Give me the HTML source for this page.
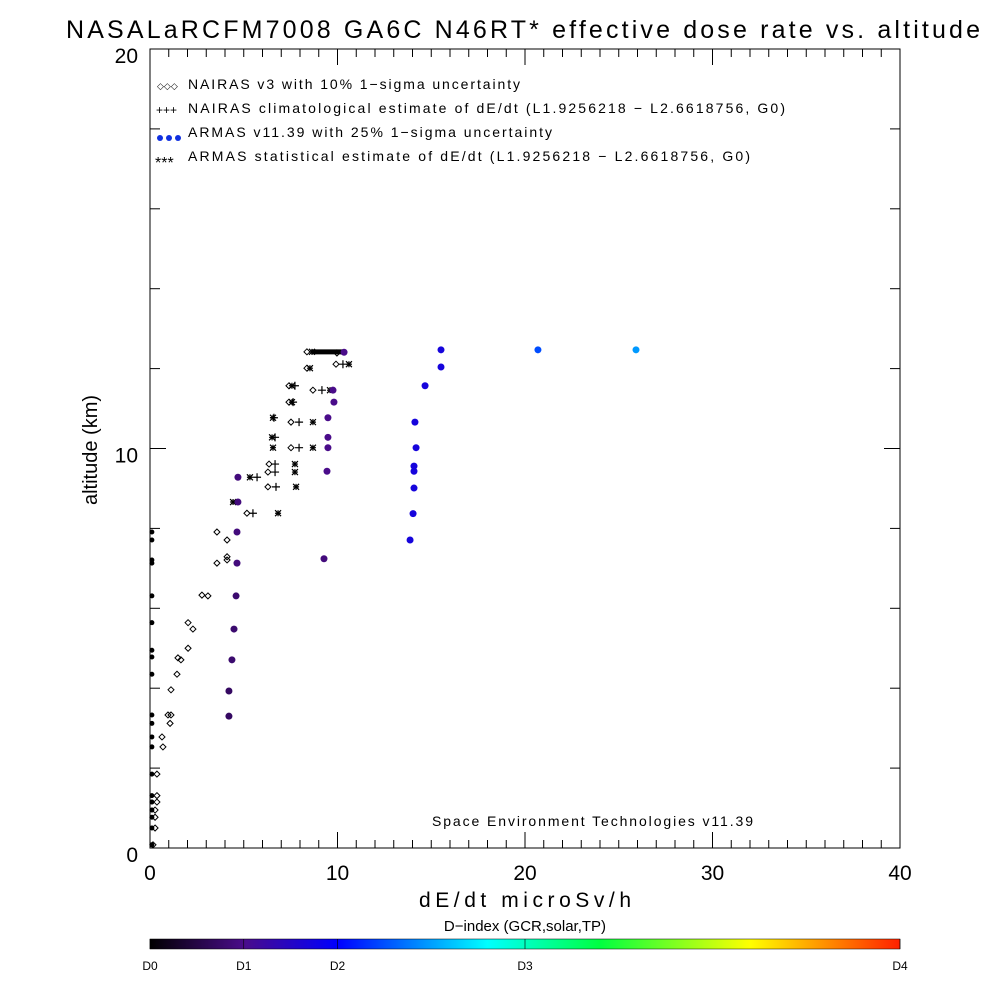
<!DOCTYPE html>
<html><head><meta charset="utf-8"><style>
body{margin:0;background:#fff;}
svg text{font-family:"Liberation Sans",sans-serif;fill:#000;}
</style></head><body>
<svg id="chart" width="1000" height="1000" viewBox="0 0 1000 1000">
<defs><linearGradient id="cb" x1="0" x2="1" y1="0" y2="0">
<stop offset="0" stop-color="#000000"/><stop offset="0.125" stop-color="#4a0c8a"/><stop offset="0.25" stop-color="#0000ff"/><stop offset="0.45" stop-color="#00ffff"/><stop offset="0.6" stop-color="#00ff40"/><stop offset="0.8" stop-color="#ffff00"/><stop offset="1" stop-color="#ff2000"/>
</linearGradient></defs>
<text x="66" y="38" font-size="25" textLength="914" lengthAdjust="spacing">NASALaRCFM7008  GA6C N46RT* effective dose rate vs. altitude</text>
<rect x="150" y="49" width="750" height="799" fill="none" stroke="#000" stroke-width="1"/>
<g id="axes"></g>
<g id="marks"></g>
<text x="188" y="89" font-size="14" textLength="332" lengthAdjust="spacing">NAIRAS v3 with 10% 1−sigma uncertainty</text>
<text x="188" y="113" font-size="14" textLength="597" lengthAdjust="spacing">NAIRAS climatological estimate of dE/dt (L1.9256218 − L2.6618756, G0)</text>
<text x="188" y="137" font-size="14" textLength="364" lengthAdjust="spacing">ARMAS v11.39 with 25% 1−sigma uncertainty</text>
<text x="188" y="161" font-size="14" textLength="562" lengthAdjust="spacing">ARMAS statistical estimate of dE/dt (L1.9256218 − L2.6618756, G0)</text>
<text x="157" y="89" font-size="9">◇◇◇</text>
<text x="156" y="114" font-size="12">+++</text>
<circle cx="160" cy="138" r="3" fill="#1030e0"/>
<circle cx="169" cy="138" r="3" fill="#1030e0"/>
<circle cx="178" cy="138" r="3" fill="#1030e0"/>
<text x="155" y="168" font-size="16">***</text>
<text x="432" y="826" font-size="14" textLength="321" lengthAdjust="spacing">Space Environment Technologies v11.39</text>
<text x="525" y="907" font-size="21" text-anchor="middle" textLength="212" lengthAdjust="spacing">dE/dt microSv/h</text>
<text x="0" y="0" font-size="20" text-anchor="middle" transform="translate(97,450) rotate(-90)">altitude (km)</text>
<text x="525" y="931" font-size="15" text-anchor="middle">D−index (GCR,solar,TP)</text>
<rect x="150" y="939" width="750" height="10" fill="url(#cb)" stroke="#000" stroke-width="0.5"/>
<g id="cbar"></g>
</svg>
<script>
const xTicks=[0,10,20,30,40];
const yTicks=[0,10,20];
const cbLabels=["D0","D1","D2","D3","D4"];
const cbPos=[0,0.125,0.25,0.5,1];
const nairasX=[9.97,9.92,8.37,8.37,7.41,8.69,7.41,7.52,7.52,6.35,6.29,6.29,5.17,3.57,4.11,4.11,4.11,3.57,2.77,3.09,2.03,2.29,2.03,1.49,1.65,1.44,1.12,0.96,1.12,1.07,0.64,0.69,0.37,0.37,0.37,0.27,0.27,0.27,0.16];
const nairasY=[12.39,12.11,12.42,12.01,11.57,11.46,11.16,10.66,10.02,9.61,9.41,9.04,8.38,7.91,7.71,7.29,7.21,7.13,6.33,6.31,5.64,5.48,5.00,4.76,4.71,4.35,3.96,3.33,3.33,3.12,2.78,2.53,1.85,1.31,1.15,0.95,0.77,0.50,0.08];
const climX=[9.17,10.29,7.95,7.95,6.67,6.67,6.72,5.49,5.71,6.67,6.61,7.73,7.63];
const climY=[11.46,12.11,10.66,10.02,9.61,9.41,9.04,8.38,9.28,10.28,10.77,11.57,11.16];
const statX=[10.61,9.60,8.69,8.69,7.73,7.73,7.79,6.83,5.33,4.43,6.56,6.51,6.56,7.57,7.57,8.53,8.64];
const statY=[12.11,11.46,10.66,10.02,9.61,9.41,9.04,8.38,9.28,8.66,10.77,10.28,10.02,11.57,11.16,12.01,12.42];
const armasX=[10.35,9.76,9.81,9.49,9.49,9.49,9.44,4.69,4.69,4.64,4.64,9.28,4.59,4.48,4.37,4.21,4.21,15.52,15.52,14.67,14.13,14.19,14.08,14.08,14.08,14.03,13.87,20.69,25.92];
const armasY=[12.41,11.46,11.16,10.77,10.28,10.02,9.43,9.28,8.66,7.91,7.13,7.24,6.31,5.48,4.71,3.93,3.30,12.47,12.04,11.57,10.66,10.02,9.56,9.43,9.01,8.37,7.71,12.47,12.47];
const armasD=[1.0,1.0,1.0,1.0,1.0,1.0,1.0,0.9,0.9,0.9,0.9,0.9,0.8,0.8,0.8,0.7,0.7,1.7,1.7,1.7,1.7,1.7,1.7,1.7,1.7,1.7,1.7,2.3,2.6];
const zeroX=[0.1,0.1,0.1,0.1,0.1,0.1,0.1,0.1,0.1,0.1,0.1,0.1,0.1,0.1,0.1,0.1,0.1,0.1,0.1,0.1];
const zeroY=[7.91,7.71,7.21,7.13,6.31,5.64,4.95,4.78,4.35,3.33,3.12,2.78,2.53,1.85,1.31,1.15,0.95,0.77,0.50,0.08];
const barRange=[8.6,10.4];
const barAlt=[12.42];
const X0=150,X1=900,Y0=848,Y1=49;
const xs=v=>X0+(v-0)/40*(X1-X0);
const ys=v=>Y0-(v-0)/20*(Y0-Y1);
const NS="http://www.w3.org/2000/svg";
function mk(tag,attrs,parent){const e=document.createElementNS(NS,tag);for(const k in attrs)e.setAttribute(k,attrs[k]);document.getElementById(parent).appendChild(e);return e;}
function dcol(d){const stops=[[0,[0,0,0]],[1,[74,12,138]],[2,[0,0,255]],[2.5,[0,128,255]],[3,[0,255,255]],[4,[255,32,0]]];
for(let i=0;i<stops.length-1;i++){const a=stops[i],b=stops[i+1];if(d<=b[0]){const t=(d-a[0])/(b[0]-a[0]);return 'rgb('+a[1].map((c,j)=>Math.round(c+(b[1][j]-c)*t)).join(',')+')';}}return 'rgb(255,32,0)';}
for(let v=0;v<=40;v++){const major=v%10===0;const L=major?16:8;
let t=mk('line',{x1:xs(v),x2:xs(v),y1:Y0,y2:Y0-L,stroke:'#000'},'axes');


let t2=mk('line',{x1:xs(v),x2:xs(v),y1:Y1,y2:Y1+L,stroke:'#000'},'axes');

}
xTicks.forEach(v=>{const t=mk('text',{x:xs(v),y:880,'font-size':21,'text-anchor':'middle'},'axes');t.textContent=v;

});
for(let v=0;v<=20;v+=2){const major=v%10===0;const L=major?16:10;
let t=mk('line',{x1:X0,x2:X0+L,y1:ys(v),y2:ys(v),stroke:'#000'},'axes');


let t2=mk('line',{x1:X1,x2:X1-L,y1:ys(v),y2:ys(v),stroke:'#000'},'axes');

}
yTicks.forEach(v=>{const t=mk('text',{x:138,y:ys(v)+14,'font-size':21,'text-anchor':'end'},'axes');t.textContent=v;

});
let br=mk('line',{x1:xs(barRange[0]),x2:xs(barRange[1]),y1:ys(barAlt[0]),y2:ys(barAlt[0]),stroke:'#000','stroke-width':5},'marks');


nairasX.forEach((x,i)=>{const cx=xs(x),cy=ys(nairasY[i]);
const p=mk('polygon',{points:`${cx},${cy-3} ${cx+3},${cy} ${cx},${cy+3} ${cx-3},${cy}`,fill:'none',stroke:'#000','stroke-width':1},'marks');

});
climX.forEach((x,i)=>{const cx=xs(x),cy=ys(climY[i]);
const p=mk('path',{d:`M${cx-4},${cy}H${cx+4}M${cx},${cy-4}V${cy+4}`,stroke:'#000','stroke-width':1.2},'marks');

});
statX.forEach((x,i)=>{const cx=xs(x),cy=ys(statY[i]);
const p=mk('path',{d:`M${cx-3},${cy}H${cx+3}M${cx},${cy-3}V${cy+3}M${cx-3},${cy-3}L${cx+3},${cy+3}M${cx-3},${cy+3}L${cx+3},${cy-3}`,stroke:'#000','stroke-width':1.2},'marks');

});
zeroX.forEach((x,i)=>{const c=mk('circle',{cx:xs(x),cy:ys(zeroY[i]),r:2.5,fill:'#000'},'marks');

});
armasX.forEach((x,i)=>{const c=mk('circle',{cx:xs(x),cy:ys(armasY[i]),r:3.5,fill:dcol(armasD[i])},'marks');

});
cbLabels.forEach((l,i)=>{const x=150+cbPos[i]*750;
const tk=mk('line',{x1:x,x2:x,y1:939,y2:949,stroke:'#000','stroke-width':0.6},'cbar');


const t=mk('text',{x:x,y:970,'font-size':12,'text-anchor':'middle'},'cbar');t.textContent=l;

});
</script>
</body></html>
